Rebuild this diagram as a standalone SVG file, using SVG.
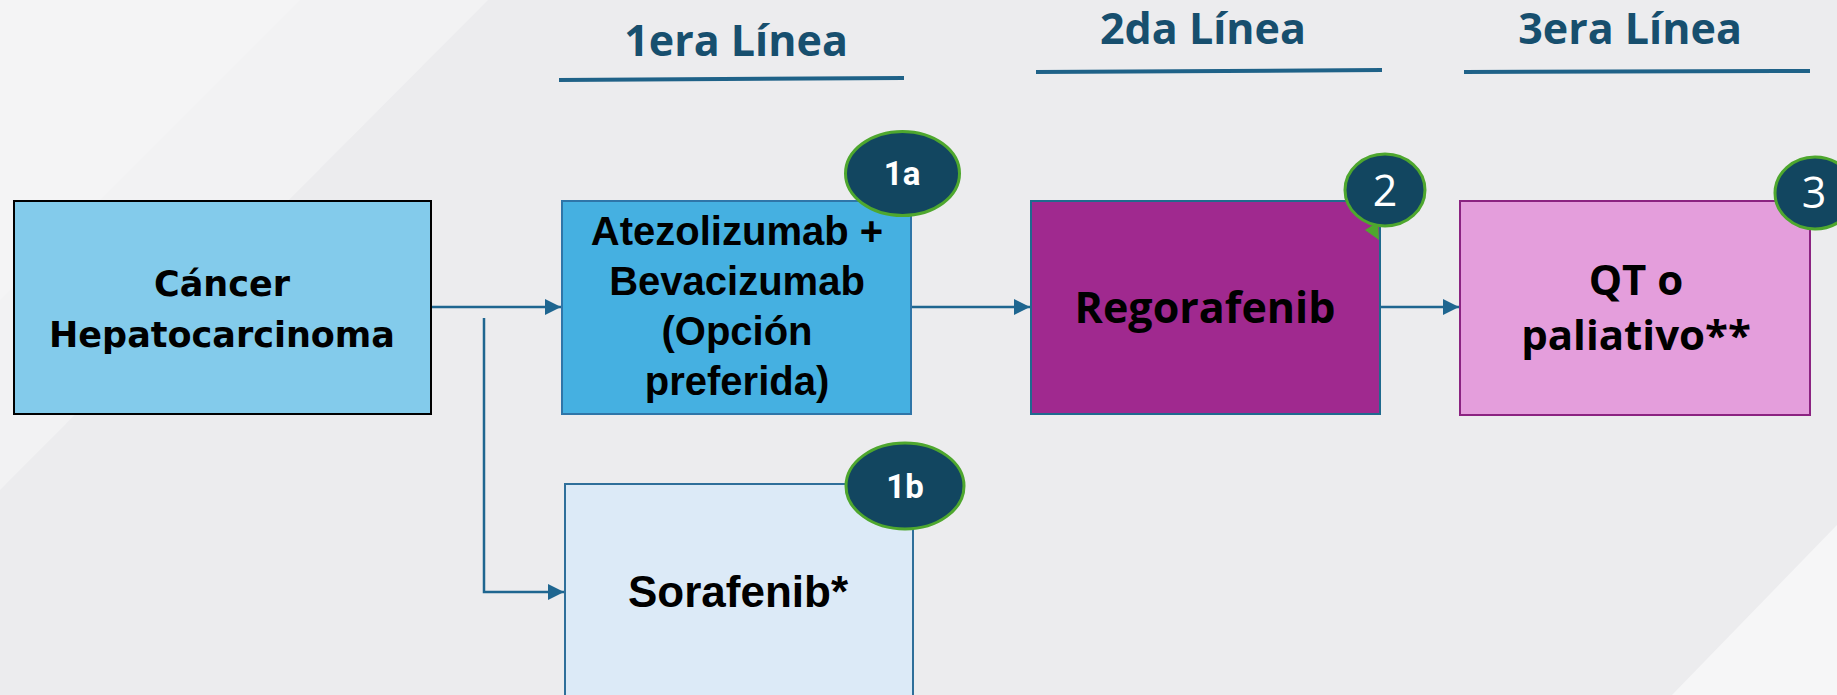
<svg xmlns="http://www.w3.org/2000/svg" width="1837" height="695" viewBox="0 0 1837 695">
<defs>
<marker id="arr" viewBox="0 0 10 10" refX="10" refY="5" markerWidth="6.5" markerHeight="7" orient="auto" markerUnits="strokeWidth">
<path d="M0,0 L10,5 L0,10 Z" fill="#1F6690"/>
</marker>
<style>
.hdr{font-family:"Open Sans",sans-serif;font-weight:700;font-size:43px;fill:#174F6E;text-anchor:middle}
.ul{stroke:#1F6288;stroke-width:4;fill:none}
.conn{stroke:#1F6690;stroke-width:2.5;fill:none}
.badge{fill:#124660;stroke:#4EA72E;stroke-width:3}
.bt{font-family:"Roboto","Liberation Sans",sans-serif;font-weight:700;font-size:33px;fill:#fff;text-anchor:middle}
.bn{font-family:"Open Sans",sans-serif;font-weight:400;font-size:43px;fill:#fff;text-anchor:middle}
.lab{font-family:"Liberation Sans",Arial,sans-serif;font-weight:700;fill:#000;text-anchor:middle}
.labo{font-family:"Open Sans",sans-serif;font-weight:700;fill:#000;text-anchor:middle}
</style>
</defs>
<rect x="0" y="0" width="1837" height="695" fill="#ECECEE"/>
<polygon points="0,0 488,0 0,490" fill="#F2F2F3"/>
<polygon points="0,0 300,0 0,300" fill="#F4F4F5"/>
<polygon points="1837,525 1837,695 1672,695" fill="#F6F6F7"/>

<g id="headers">
<text class="hdr" x="736" y="56">1era Línea</text>
<line class="ul" x1="559" y1="80" x2="904" y2="78"/>
<text class="hdr" x="1203" y="44">2da Línea</text>
<line class="ul" x1="1036" y1="72" x2="1382" y2="70"/>
<text class="hdr" x="1630" y="44">3era Línea</text>
<line class="ul" x1="1464" y1="72" x2="1810" y2="71"/>
</g>

<g id="connectors">
<line class="conn" x1="431" y1="307" x2="561" y2="307" marker-end="url(#arr)"/>
<polyline class="conn" points="484,318 484,592 564,592" marker-end="url(#arr)"/>
<line class="conn" x1="911" y1="307" x2="1030" y2="307" marker-end="url(#arr)"/>
<line class="conn" x1="1380" y1="307" x2="1459" y2="307" marker-end="url(#arr)"/>
</g>

<g id="cancer">
<rect x="14" y="201" width="417" height="213" fill="#83CBEB" stroke="#000" stroke-width="2"/>
<text class="lab" x="222" y="296" style="font-family:'DejaVu Sans',sans-serif;font-size:35px">Cáncer</text>
<text class="lab" x="222" y="347" style="font-family:'DejaVu Sans',sans-serif;font-size:35px">Hepatocarcinoma</text>
</g>

<g id="atezolizumab">
<rect x="562" y="201" width="349" height="213" fill="#45B0E1" stroke="#2F75A8" stroke-width="2"/>
<text class="lab" x="737" y="245" font-size="40">Atezolizumab +</text>
<text class="lab" x="737" y="295" font-size="40">Bevacizumab</text>
<text class="lab" x="737" y="345" font-size="40">(Opción</text>
<text class="lab" x="737" y="395" font-size="40">preferida)</text>
</g>

<g id="badge-1a">
<ellipse class="badge" cx="902.5" cy="173.5" rx="57" ry="42"/>
<text class="bt" x="902" y="185">1a</text>
</g>

<g id="sorafenib">
<rect x="565" y="484" width="348" height="230" fill="#DCEAF7" stroke="#2F6F9A" stroke-width="2"/>
<text class="lab" x="738" y="607" font-size="44">Sorafenib*</text>
</g>

<g id="badge-1b">
<ellipse class="badge" cx="905" cy="486" rx="59" ry="43"/>
<text class="bt" x="905" y="498">1b</text>
</g>

<g id="regorafenib">
<rect x="1031" y="201" width="349" height="213" fill="#A0298F" stroke="#1F6A8E" stroke-width="2"/>
<text class="labo" x="1205" y="323" font-size="43">Regorafenib</text>
</g>

<g id="badge-2">
<polygon points="1365,230 1378,222 1379,240" fill="#4EA72E"/>
<ellipse class="badge" cx="1385" cy="190" rx="40" ry="36"/>
<text class="bn" x="1385" y="206">2</text>
</g>

<g id="qt">
<rect x="1460" y="201" width="350" height="214" fill="#E49EDC" stroke="#8B2381" stroke-width="2"/>
<text class="labo" x="1636" y="295" font-size="42">QT o</text>
<text class="labo" x="1636" y="350" font-size="42">paliativo**</text>
</g>

<g id="badge-3">
<ellipse class="badge" cx="1815" cy="193" rx="40" ry="36"/>
<text class="bn" x="1814" y="208">3</text>
</g>
</svg>
